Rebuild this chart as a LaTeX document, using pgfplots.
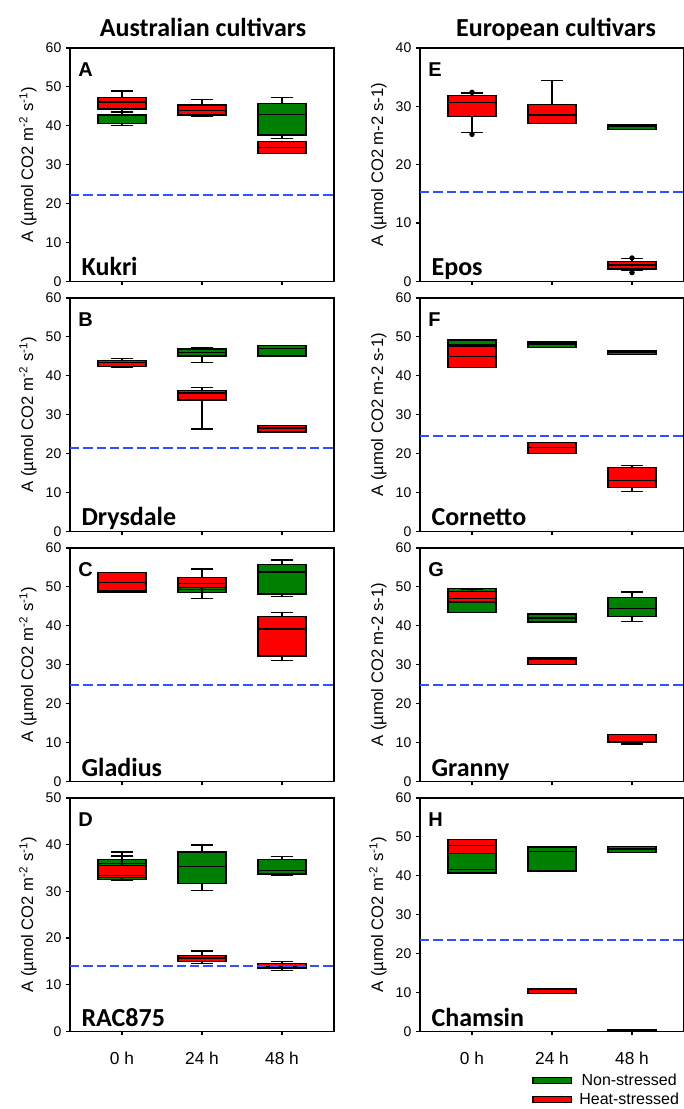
\documentclass[border=0pt]{standalone}
\usepackage{fontspec}
\setmainfont{Liberation Sans}
\newfontfamily\calibri{Carlito}
\usepackage{pgfplots}
\pgfplotsset{compat=1.18}
\usepgfplotslibrary{statistics}
\definecolor{gcol}{RGB}{0,128,0}
\definecolor{rcol}{RGB}{255,0,0}
\definecolor{dcol}{RGB}{50,80,255}
\pgfplotsset{
  panel/.style={scale only axis, width=198pt, height=175pt, anchor=north west,
    xmin=0.35, xmax=3.65, ymin=0, xtick={1,2,3}, xticklabels={},
    tick pos=left, tick align=outside, major tick length=3pt,
    axis line style={line width=0.9pt}, every tick/.style={line width=0.8pt,black},
    /pgf/number format/assume math mode=true,
    yticklabel style={font=\fontsize{10.5}{12}\selectfont},
    xticklabel style={font=\fontsize{13}{15}\selectfont, yshift=-9pt},
    ylabel style={font=\fontsize{12.5}{14}\selectfont},
    boxplot/draw direction=y,
    boxplot/box extend=0.6, boxplot/whisker extend=0.27,
    clip=true},
}
\newcommand\bp[7]{\addplot[draw=black, line width=1pt, fill=#1,
  boxplot prepared={draw position=#2, lower whisker=#3, lower quartile=#4,
  median=#5, upper quartile=#6, upper whisker=#7}] coordinates {};}
\newcommand\dl[1]{\addplot[dcol, line width=1.5pt, dash pattern=on 7pt off 3pt] coordinates {(0.35,#1) (3.65,#1)};}
\newcommand\lab[2]{\node[anchor=north west, inner sep=0pt, font=\fontsize{15}{17}\selectfont\bfseries] at ([xshift=6pt,yshift=-10.5pt]rel axis cs:0,1) {#1};
  \node[anchor=base west, inner sep=0pt, font=\fontsize{19.5}{22}\selectfont\calibri\bfseries] at ([xshift=8.5pt,yshift=4pt]rel axis cs:0,0) {#2};}
\newcommand\ylsup{A (µmol CO2 m\textsuperscript{-2} s\textsuperscript{-1})}
\newcommand\ylplain{A (µmol CO2 m-2 s-1)}
\begin{document}
\begin{tikzpicture}
\path[use as bounding box] (0,0) rectangle (512.25pt,-831.75pt);
\node[anchor=base, font=\fontsize{19.5}{22}\selectfont\calibri\bfseries] at (152.25pt,-27.75pt) {Australian cultivars};
\node[anchor=base, font=\fontsize{19.5}{22}\selectfont\calibri\bfseries] at (417pt,-27.75pt) {European cultivars};
% A
\begin{axis}[panel, at={(52.5pt,-36pt)}, ymax=60, ytick={0,10,...,60}, ylabel={\ylsup}]
\bp{gcol}{1}{40.1}{40.6}{42.6}{42.9}{43.4}
\bp{rcol}{1}{43.5}{44.3}{46.1}{47.3}{48.9}
\bp{gcol}{2}{44.0}{44.3}{44.7}{45.3}{45.5}
\bp{rcol}{2}{42.3}{42.8}{44.0}{45.3}{46.7}
\bp{gcol}{3}{36.8}{37.6}{42.9}{45.8}{47.2}
\bp{rcol}{3}{32.8}{32.9}{34.4}{35.9}{36.0}
\dl{22.1}
\lab{A}{Kukri}
\end{axis}
% B
\begin{axis}[panel, at={(52.5pt,-223.5pt)}, ymax=60, ytick={0,10,...,60}, ylabel={\ylsup}]
\bp{gcol}{1}{42.3}{42.4}{42.8}{43.3}{43.5}
\bp{rcol}{1}{42.3}{42.4}{43.5}{44.0}{44.5}
\bp{gcol}{2}{43.5}{45.1}{46.0}{46.9}{47.3}
\bp{rcol}{2}{26.3}{33.8}{35.6}{36.2}{37.0}
\bp{gcol}{3}{45.1}{45.1}{47.1}{47.8}{47.8}
\bp{rcol}{3}{25.5}{25.5}{26.6}{27.2}{27.2}
\dl{21.5}
\lab{B}{Drysdale}
\end{axis}
% C
\begin{axis}[panel, at={(52.5pt,-411pt)}, ymax=60, ytick={0,10,...,60}, ylabel={\ylsup}]
\bp{gcol}{1}{48.5}{48.7}{49.3}{49.7}{49.8}
\bp{rcol}{1}{48.6}{49.0}{51.2}{53.7}{53.7}
\bp{gcol}{2}{47.1}{48.6}{49.3}{50.5}{50.5}
\bp{rcol}{2}{48.5}{49.8}{50.8}{52.4}{54.6}
\bp{gcol}{3}{47.6}{48.2}{53.8}{55.7}{56.9}
\bp{rcol}{3}{31.1}{32.2}{39.2}{42.4}{43.4}
\dl{24.9}
\lab{C}{Gladius}
\end{axis}
% D
\begin{axis}[panel, at={(52.5pt,-598.5pt)}, ymax=50, ytick={0,10,...,50}, ylabel={\ylsup},
  xticklabels={0 h,24 h,48 h}]
\bp{gcol}{1}{32.3}{32.5}{36.0}{36.8}{38.4}
\bp{rcol}{1}{32.4}{33.0}{33.4}{35.5}{37.6}
\bp{gcol}{2}{30.2}{31.7}{35.3}{38.4}{39.9}
\bp{rcol}{2}{14.5}{15.0}{15.7}{16.2}{17.2}
\bp{gcol}{3}{33.5}{33.7}{34.5}{36.8}{37.5}
\bp{rcol}{3}{13.0}{13.4}{13.8}{14.6}{15.0}
\dl{14.0}
\lab{D}{RAC875}
\end{axis}
% E
\begin{axis}[panel, at={(315pt,-36pt)}, ymax=40, ytick={0,10,...,40}, ylabel={\ylplain}]
\bp{gcol}{1}{28.4}{28.6}{28.9}{29.2}{29.4}
\bp{rcol}{1}{25.5}{28.3}{30.6}{31.9}{32.3}
\addplot[only marks, mark=*, mark size=1.8pt, black] coordinates {(1,25.2) (1,32.4) (3,1.5) (3,4.0)};
\bp{gcol}{2}{27.5}{27.8}{28.3}{28.8}{29.0}
\bp{rcol}{2}{27.1}{27.1}{28.5}{30.3}{34.4}
\bp{gcol}{3}{26.0}{26.0}{26.5}{26.8}{26.8}
\bp{rcol}{3}{1.8}{2.1}{2.8}{3.4}{3.9}
\dl{15.3}
\lab{E}{Epos}
\end{axis}
% F
\begin{axis}[panel, at={(315pt,-223.5pt)}, ymax=60, ytick={0,10,...,60}, ylabel={\ylplain}]
\bp{gcol}{1}{42.5}{43.0}{48.0}{49.2}{49.2}
\bp{rcol}{1}{42.1}{42.1}{44.9}{47.7}{47.7}
\bp{gcol}{2}{47.3}{47.3}{48.2}{48.7}{48.7}
\bp{rcol}{2}{20.0}{20.0}{21.5}{22.9}{22.9}
\bp{gcol}{3}{45.4}{45.5}{46.0}{46.4}{46.5}
\bp{rcol}{3}{10.2}{11.2}{13.1}{16.4}{16.9}
\dl{24.4}
\lab{F}{Cornetto}
\end{axis}
% G
\begin{axis}[panel, at={(315pt,-411pt)}, ymax=60, ytick={0,10,...,60}, ylabel={\ylplain}]
\bp{gcol}{1}{43.5}{43.5}{46.0}{49.6}{49.6}
\bp{rcol}{1}{46.3}{46.3}{47.1}{48.8}{49.5}
\bp{gcol}{2}{41.0}{41.0}{42.0}{43.0}{43.0}
\bp{rcol}{2}{30.0}{30.0}{31.5}{31.9}{31.9}
\bp{gcol}{3}{41.1}{42.4}{44.4}{47.3}{48.7}
\bp{rcol}{3}{9.6}{10.1}{10.3}{12.1}{12.1}
\dl{24.7}
\lab{G}{Granny}
\end{axis}
% H
\begin{axis}[panel, at={(315pt,-598.5pt)}, ymax=60, ytick={0,10,...,60}, ylabel={\ylsup},
  xticklabels={0 h,24 h,48 h},
  legend style={draw=none, fill=none, at={(0.425,-0.172)}, anchor=north west, inner sep=0pt,
    font=\fontsize{12}{14}\selectfont, row sep=1pt, nodes={inner sep=1.5pt}},
  legend image code/.code={\draw[#1, line width=0.9pt] (0pt,-2.3pt) rectangle (29pt,2.3pt); \path (33pt,0pt);}]
\addlegendimage{draw=black, fill=gcol}
\addlegendentry{Non-stressed}
\addlegendimage{draw=black, fill=rcol}
\addlegendentry{Heat-stressed}
\bp{gcol}{1}{40.7}{40.7}{41.7}{49.3}{49.3}
\bp{rcol}{1}{45.7}{45.7}{47.8}{49.3}{49.3}
\bp{gcol}{2}{41.2}{41.2}{46.2}{47.4}{47.4}
\bp{rcol}{2}{9.7}{9.7}{9.7}{10.9}{10.9}
\bp{gcol}{3}{46.0}{46.0}{46.9}{47.5}{47.5}
\bp{rcol}{3}{0.1}{0.2}{0.3}{0.5}{0.5}
\dl{23.6}
\lab{H}{Chamsin}
\end{axis}
\end{tikzpicture}
\end{document}
